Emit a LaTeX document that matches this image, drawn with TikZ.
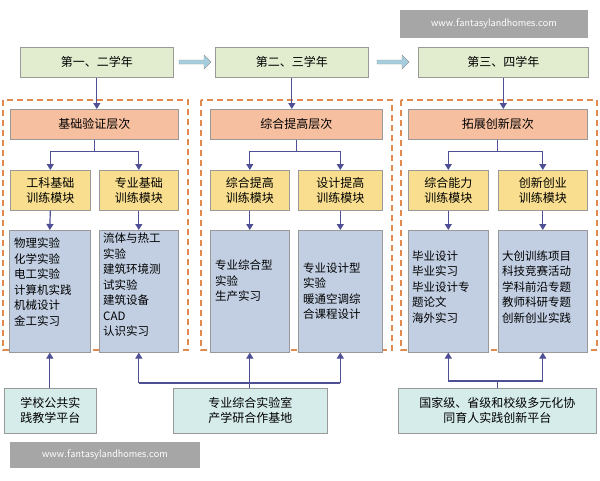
\documentclass[tikz,border=0pt]{standalone}
\usepackage{fontspec}
\setmainfont{Noto Sans CJK SC}
\usetikzlibrary{arrows.meta,shapes.arrows}
\definecolor{yr}{HTML}{E2EDCF}
\definecolor{lv}{HTML}{F5BFA0}
\definecolor{md}{HTML}{F8DE8E}
\definecolor{ct}{HTML}{C2CFE3}
\definecolor{bt}{HTML}{D5ECEA}
\definecolor{ln}{HTML}{4F4F96}
\definecolor{fr}{HTML}{E08A50}
\tikzset{
 every node/.style={font=\fontsize{12}{15}\selectfont},
 bx/.style={draw=black!40,line width=0.6pt,inner sep=0pt,anchor=north west,align=center},
 arr/.style={draw=ln,line width=1.2pt,-{Triangle[length=6pt,width=7pt]}},
 ln/.style={draw=ln,line width=1.2pt},
 frm/.style={draw=fr,dashed,dash pattern=on 6pt off 4pt,line width=1.4pt},
}
\newcommand{\B}[6]{\node[bx,fill=#2,minimum width=#5pt,minimum height=#6pt] (#1) at (#3,#4) {};}
\begin{document}
\begin{tikzpicture}[x=1pt,y=-1pt]
\useasboundingbox (0,0) rectangle (600,480);
\fill[white] (0,0) rectangle (600,480);
% watermarks
\node[fill=black!35,text=white,minimum width=188pt,minimum height=28pt,inner sep=0pt,font=\sffamily\fontsize{11}{12}\selectfont] (w1) at (494,24) {www.fantasylandhomes.com};
\node[fill=black!35,text=white,minimum width=190pt,minimum height=26pt,inner sep=0pt,font=\sffamily\fontsize{11}{12}\selectfont] (w2) at (105,455) {www.fantasylandhomes.com};
% frames
\draw[frm] (3,100) rectangle (188,350);
\draw[frm] (201,100) rectangle (392,350);
\draw[frm] (401,100) rectangle (597,350);
% year boxes
\B{y1}{yr}{20}{47}{153}{30}\node at (y1) {第一、二学年};
\B{y2}{yr}{215}{47}{153}{30}\node at (y2) {第二、三学年};
\B{y3}{yr}{418}{47}{170}{30}\node at (y3) {第三、四学年};
\node[single arrow,draw=black!40,fill=cyan!35!teal!40,minimum height=32pt,minimum width=14pt,single arrow head extend=3pt,inner sep=1pt] (a1) at (194,62) {};
\node[single arrow,draw=black!40,fill=cyan!35!teal!40,minimum height=32pt,minimum width=14pt,single arrow head extend=3pt,inner sep=1pt] (a2) at (392,62) {};
% levels
\B{l1}{lv}{10}{109}{168}{30}\node at (l1) {基础验证层次};
\B{l2}{lv}{210}{109}{172}{30}\node at (l2) {综合提高层次};
\B{l3}{lv}{408}{109}{179}{30}\node at (l3) {拓展创新层次};
\draw[arr] (y1.south) -- (y1.south|-l1.north);
\draw[arr] (y2.south) -- (y2.south|-l2.north);
\draw[arr] (y3.south) -- (y3.south|-l3.north);
% modules
\B{m1}{md}{10}{170}{80}{40}\node[align=center] at (m1) {工科基础\\训练模块};
\B{m2}{md}{99}{170}{79}{40}\node[align=center] at (m2) {专业基础\\训练模块};
\B{m3}{md}{210}{170}{79}{40}\node[align=center] at (m3) {综合提高\\训练模块};
\B{m4}{md}{298}{170}{84}{40}\node[align=center] at (m4) {设计提高\\训练模块};
\B{m5}{md}{408}{170}{80}{40}\node[align=center] at (m5) {综合能力\\训练模块};
\B{m6}{md}{498}{170}{89}{40}\node[align=center] at (m6) {创新创业\\训练模块};
\foreach \l/\a/\b in {l1/m1/m2,l2/m3/m4,l3/m5/m6}{
 \draw[ln] (\l.south) -- ++(0,12) coordinate (\l c);
 \draw[arr] (\l c) -| (\a.north);
 \draw[arr] (\l c) -| (\b.north);
}
% contents
\B{c1}{ct}{9}{230}{81}{122}
\B{c2}{ct}{99}{230}{79}{122}
\B{c3}{ct}{210}{230}{79}{122}
\B{c4}{ct}{298}{230}{84}{122}
\B{c5}{ct}{408}{230}{80}{122}
\B{c6}{ct}{498}{230}{89}{122}
\foreach \i in {1,...,6}{\draw[arr] (m\i.south) -- (c\i.north);}
\tikzset{tx/.style={anchor=north west,align=left,inner sep=0pt,font=\fontsize{11.5}{15.5}\selectfont}}
\node[tx] (t1) at (14,238) {物理实验\\化学实验\\电工实验\\计算机实践\\机械设计\\金工实习};
\node[tx] (t2) at (103,233) {流体与热工\\实验\\建筑环境测\\试实验\\建筑设备\\CAD\\认识实习};
\node[tx,anchor=west] (t3) at (215,281) {专业综合型\\实验\\生产实习};
\node[tx,anchor=west] (t4) at (303,291) {专业设计型\\实验\\暖通空调综\\合课程设计};
\node[tx,anchor=west] (t5) at (412,287) {毕业设计\\毕业实习\\毕业设计专\\题论文\\海外实习};
\node[tx,anchor=west] (t6) at (502,287) {大创训练项目\\科技竞赛活动\\学科前沿专题\\教师科研专题\\创新创业实践};
% bottom
\B{b1}{bt}{4}{388}{92}{45}\node[align=center] at (b1) {学校公共实\\践教学平台};
\B{b2}{bt}{173}{388}{154}{45}\node[align=center] at (b2) {专业综合实验室\\产学研合作基地};
\B{b3}{bt}{398}{388}{198}{45}\node[align=center] at (b3) {国家级、省级和校级多元化协\\同育人实践创新平台};
\draw[arr] (b1.north-|c1.south) -- (c1.south);
\draw[arr] (b2.north-|c3.south) -- (c3.south);
\draw[ln] (c2.south|-0,383) coordinate (p2) -- (c4.south|-0,383) coordinate (p4);
\draw[arr] (p2) -- (c2.south);
\draw[arr] (p4) -- (c4.south);
\draw[ln] (b3.north) -- (b3.north|-0,381);
\draw[ln] (c5.south|-0,381) coordinate (p5) -- (c6.south|-0,381) coordinate (p6);
\draw[arr] (p5) -- (c5.south);
\draw[arr] (p6) -- (c6.south);
\end{tikzpicture}
\end{document}
